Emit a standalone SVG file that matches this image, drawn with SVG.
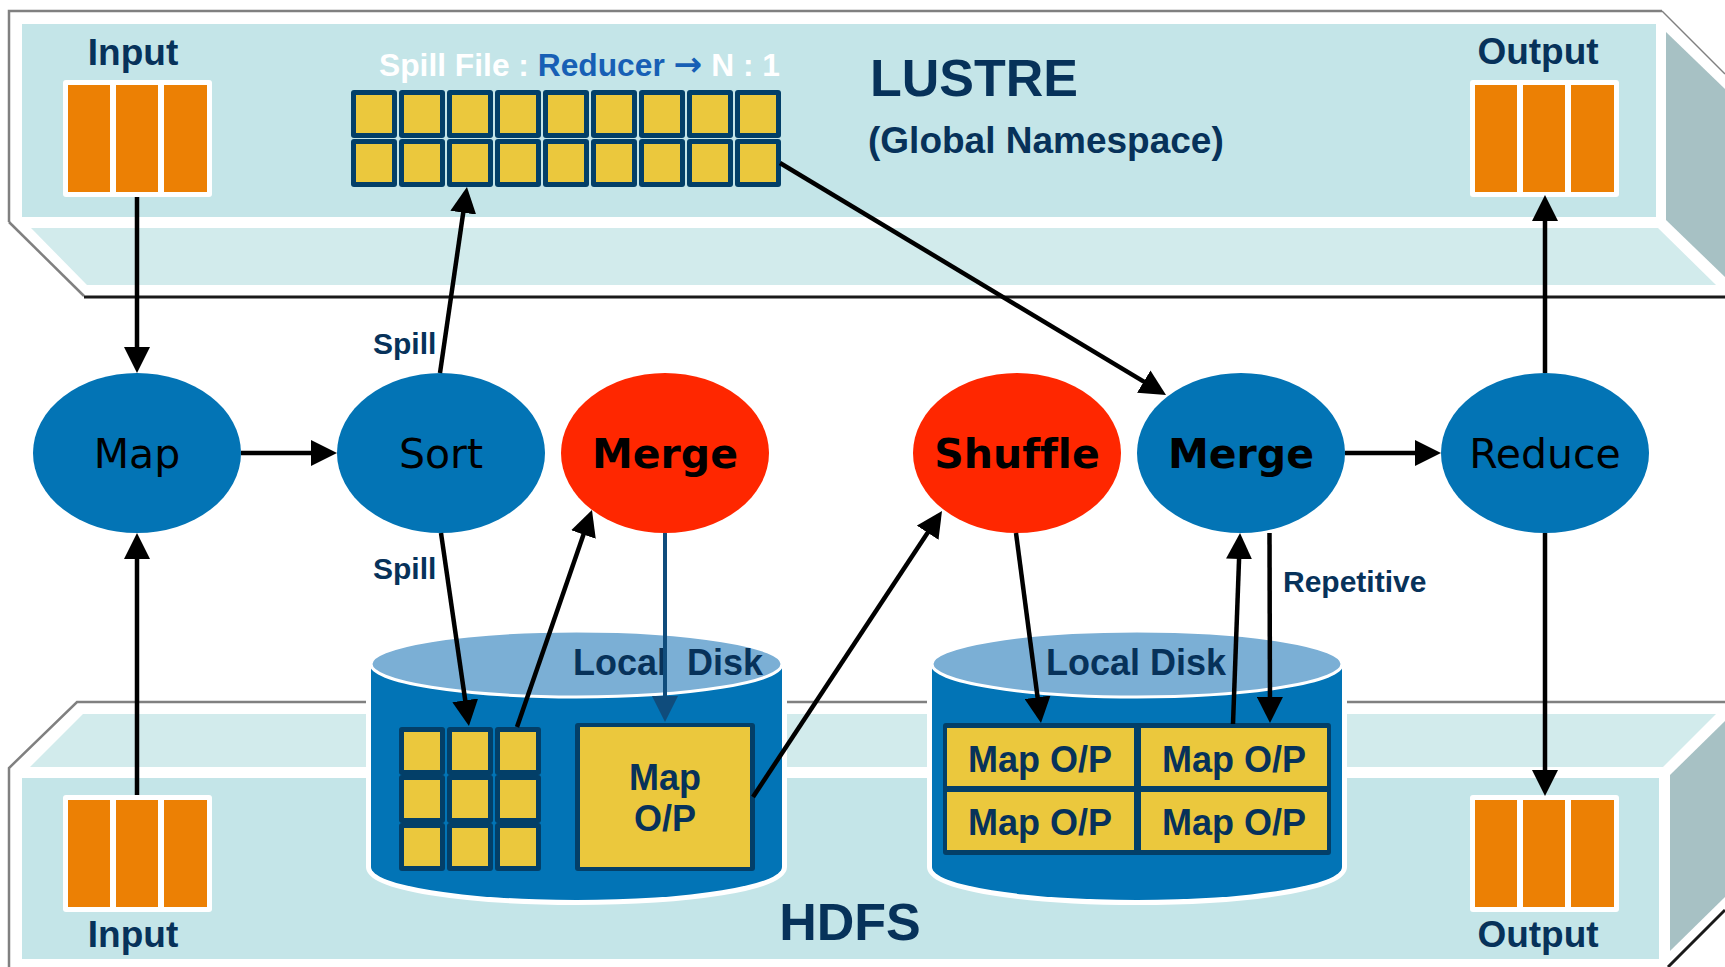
<svg xmlns="http://www.w3.org/2000/svg" xmlns:xlink="http://www.w3.org/1999/xlink" width="1725" height="967" viewBox="0 0 1725 967">
  <style>
    .face { fill: #C4E5E8; }
    .strip { fill: #D2EBEC; }
    .side { fill: #A7C1C4; }
    .edge-gray { fill: none; stroke: #808080; stroke-width: 2.5; }
    .edge-dark { fill: none; stroke: #1A1A1A; stroke-width: 3; }
    .lbl { font-family: "Liberation Sans", Arial, sans-serif; font-weight: bold; fill: #07325A; }
    .node-blue { fill: #0374B5; }
    .node-red { fill: #FF2700; }
    .ntext { font-family: "DejaVu Sans", Verdana, sans-serif; font-size: 41px; fill: #000; text-anchor: middle; font-variant-ligatures: none; }
    .nbold { font-weight: bold; }
    .frame { fill: #FFFFFF; }
    .bar { fill: #EC8004; }
    .navy { fill: #033F68; }
    .yellow { fill: #EBC83D; }
    .cyl-body { fill: #0274B6; stroke: #FFFFFF; stroke-width: 10; paint-order: stroke; }
    .cyl-top { fill: #7BAFD5; stroke: #FFFFFF; stroke-width: 3; }
    .conn { fill: none; stroke: #000; stroke-width: 4.5; }
    .conn-navy { fill: none; stroke: #0F4C7C; stroke-width: 4; }
  </style>
  <defs>
    <marker id="ah" viewBox="0 0 26 26" refX="20" refY="13" markerWidth="26" markerHeight="26" markerUnits="userSpaceOnUse" orient="auto">
      <path d="M0,0 L26,13 L0,26 Z" fill="#000"/>
    </marker>
    <marker id="ah-navy" viewBox="0 0 26 26" refX="20" refY="13" markerWidth="26" markerHeight="26" markerUnits="userSpaceOnUse" orient="auto">
      <path d="M0,0 L26,13 L0,26 Z" fill="#0F4C7C"/>
    </marker>
    <!-- one spill block: navy frame with a yellow tile -->
    <g id="cell">
      <rect class="navy" x="0" y="0" width="46" height="48" rx="3"/>
      <rect class="yellow" x="5" y="5" width="36" height="38"/>
    </g>
    <!-- three-bar file block -->
    <g id="filebars">
      <rect class="frame" x="0" y="0" width="149" height="117" rx="3"/>
      <rect class="bar" x="5" y="5" width="42" height="107"/>
      <rect class="bar" x="53" y="5" width="42" height="107"/>
      <rect class="bar" x="101" y="5" width="43" height="107"/>
    </g>
  </defs>

  <rect width="1725" height="967" fill="#FFFFFF"/>

  <!-- LUSTRE storage slab -->
  <g id="lustre">
    <path class="edge-gray" d="M9,222 V11 H1662"/>
    <path d="M1662,11 L1725,74" fill="none" stroke="#808080" stroke-width="1.5"/>
    <path class="edge-gray" d="M9,222 L84,296"/>
    <path class="edge-dark" d="M84,297 H1725"/>
    <rect class="face" x="22" y="24" width="1634" height="193"/>
    <polygon class="strip" points="31,228 1658,228 1716,285 87,285"/>
    <polygon class="side" points="1666,32 1725,89 1725,277 1666,220"/>
    <text class="lbl" x="870" y="96" font-size="52">LUSTRE</text>
    <text class="lbl" x="868" y="153" font-size="37">(Global Namespace)</text>
  </g>

  <!-- HDFS storage slab -->
  <g id="hdfs">
    <path class="edge-gray" d="M1725,702 H77 L9,768 V967"/>
    <polygon class="strip" points="83,714 1716,714 1663,767 30,767"/>
    <rect class="face" x="22" y="778" width="1637" height="181"/>
    <polygon class="side" points="1670,775 1725,721 1725,897 1670,951"/>
    <path class="edge-dark" d="M1668,967 L1725,910"/>
    <text class="lbl" x="850" y="940" font-size="52" text-anchor="middle">HDFS</text>
  </g>

  <!-- input / output files -->
  <g id="input-lustre">
    <text class="lbl" x="133" y="65" font-size="37" text-anchor="middle">Input</text>
    <use xlink:href="#filebars" x="63" y="80"/>
  </g>
  <g id="output-lustre">
    <text class="lbl" x="1538" y="64" font-size="37" text-anchor="middle">Output</text>
    <use xlink:href="#filebars" x="1470" y="80"/>
  </g>
  <g id="input-hdfs">
    <use xlink:href="#filebars" x="63" y="795"/>
    <text class="lbl" x="133" y="947" font-size="37" text-anchor="middle">Input</text>
  </g>
  <g id="output-hdfs">
    <use xlink:href="#filebars" x="1470" y="795"/>
    <text class="lbl" x="1538" y="947" font-size="37" text-anchor="middle">Output</text>
  </g>

  <!-- spill files on LUSTRE -->
  <g id="spill-file">
    <text x="379" y="76" font-family="Liberation Sans, Arial, sans-serif" font-weight="bold" font-size="31.5" textLength="401" lengthAdjust="spacingAndGlyphs"><tspan fill="#FFFFFF">Spill File : </tspan><tspan fill="#175FB5">Reducer <tspan font-family="DejaVu Sans, sans-serif" font-size="34">→</tspan> </tspan><tspan fill="#FFFFFF">N : 1</tspan></text>
    <use xlink:href="#cell" x="351" y="90"/>
    <use xlink:href="#cell" x="399" y="90"/>
    <use xlink:href="#cell" x="447" y="90"/>
    <use xlink:href="#cell" x="495" y="90"/>
    <use xlink:href="#cell" x="543" y="90"/>
    <use xlink:href="#cell" x="591" y="90"/>
    <use xlink:href="#cell" x="639" y="90"/>
    <use xlink:href="#cell" x="687" y="90"/>
    <use xlink:href="#cell" x="735" y="90"/>
    <use xlink:href="#cell" x="351" y="139"/>
    <use xlink:href="#cell" x="399" y="139"/>
    <use xlink:href="#cell" x="447" y="139"/>
    <use xlink:href="#cell" x="495" y="139"/>
    <use xlink:href="#cell" x="543" y="139"/>
    <use xlink:href="#cell" x="591" y="139"/>
    <use xlink:href="#cell" x="639" y="139"/>
    <use xlink:href="#cell" x="687" y="139"/>
    <use xlink:href="#cell" x="735" y="139"/>
  </g>

  <!-- map-side local disk -->
  <g id="local-disk-map">
    <path class="cyl-body" d="M371,663 V867 A205.5,33 0 0 0 782,867 V663 Z"/>
    <ellipse class="cyl-top" cx="576.5" cy="664" rx="205.5" ry="33"/>
    <text class="lbl" x="573" y="675" font-size="36" style="white-space:pre" xml:space="preserve">Local  Disk</text>
    <use xlink:href="#cell" x="399" y="727"/>
    <use xlink:href="#cell" x="447" y="727"/>
    <use xlink:href="#cell" x="495" y="727"/>
    <use xlink:href="#cell" x="399" y="775"/>
    <use xlink:href="#cell" x="447" y="775"/>
    <use xlink:href="#cell" x="495" y="775"/>
    <use xlink:href="#cell" x="399" y="823"/>
    <use xlink:href="#cell" x="447" y="823"/>
    <use xlink:href="#cell" x="495" y="823"/>
    <rect class="navy" x="575" y="723" width="180" height="148" rx="3"/>
    <rect class="yellow" x="580" y="727" width="170" height="140"/>
    <text class="lbl" x="665" y="790" font-size="36" text-anchor="middle">Map</text>
    <text class="lbl" x="665" y="831" font-size="36" text-anchor="middle">O/P</text>
  </g>

  <!-- reduce-side local disk -->
  <g id="local-disk-reduce">
    <path class="cyl-body" d="M932,663 V867 A205,33 0 0 0 1342,867 V663 Z"/>
    <ellipse class="cyl-top" cx="1137" cy="664" rx="205" ry="33"/>
    <text class="lbl" x="1046" y="675" font-size="36">Local Disk</text>
    <rect class="navy" x="943" y="723" width="388" height="132" rx="3"/>
    <rect class="yellow" x="947" y="728" width="187" height="58"/>
    <rect class="yellow" x="1141" y="728" width="186" height="58"/>
    <rect class="yellow" x="947" y="792" width="187" height="58"/>
    <rect class="yellow" x="1141" y="792" width="186" height="58"/>
    <text class="lbl" x="1040" y="772" font-size="36" text-anchor="middle">Map O/P</text>
    <text class="lbl" x="1234" y="772" font-size="36" text-anchor="middle">Map O/P</text>
    <text class="lbl" x="1040" y="835" font-size="36" text-anchor="middle">Map O/P</text>
    <text class="lbl" x="1234" y="835" font-size="36" text-anchor="middle">Map O/P</text>
  </g>

  <!-- processing stages -->
  <g id="map">
    <ellipse class="node-blue" cx="137" cy="453" rx="104" ry="80"/>
    <text class="ntext" x="137" y="468">Map</text>
  </g>
  <g id="sort">
    <ellipse class="node-blue" cx="441" cy="453" rx="104" ry="80"/>
    <text class="ntext" x="441" y="468">Sort</text>
  </g>
  <g id="merge-map">
    <ellipse class="node-red" cx="665" cy="453" rx="104" ry="80"/>
    <text class="ntext nbold" x="665" y="468">Merge</text>
  </g>
  <g id="shuffle">
    <ellipse class="node-red" cx="1017" cy="453" rx="104" ry="80"/>
    <text class="ntext nbold" x="1017" y="468">Shuffle</text>
  </g>
  <g id="merge-reduce">
    <ellipse class="node-blue" cx="1241" cy="453" rx="104" ry="80"/>
    <text class="ntext nbold" x="1241" y="468">Merge</text>
  </g>
  <g id="reduce">
    <ellipse class="node-blue" cx="1545" cy="453" rx="104" ry="80"/>
    <text class="ntext" x="1545" y="468">Reduce</text>
  </g>

  <!-- data flow -->
  <g id="connectors">
    <line class="conn" x1="137" y1="197" x2="137" y2="367" marker-end="url(#ah)"/>
    <line class="conn" x1="137" y1="795" x2="137" y2="539" marker-end="url(#ah)"/>
    <line class="conn" x1="241" y1="453" x2="331" y2="453" marker-end="url(#ah)"/>
    <line class="conn" x1="440" y1="373" x2="466.1" y2="192.9" marker-end="url(#ah)"/>
    <line class="conn" x1="441" y1="533" x2="468.1" y2="720.1" marker-end="url(#ah)"/>
    <line class="conn" x1="517" y1="727" x2="590.0" y2="515.7" marker-end="url(#ah)"/>
    <line class="conn-navy" x1="665" y1="533" x2="665" y2="716" marker-end="url(#ah-navy)"/>
    <line class="conn" x1="753" y1="797" x2="938.7" y2="516.0" marker-end="url(#ah)"/>
    <line class="conn" x1="1016" y1="533" x2="1040.2" y2="717.1" marker-end="url(#ah)"/>
    <line class="conn" x1="1233" y1="724" x2="1239.8" y2="539" marker-end="url(#ah)"/>
    <line class="conn" x1="1269.5" y1="533" x2="1270" y2="717" marker-end="url(#ah)"/>
    <line class="conn" x1="780" y1="163" x2="1160.9" y2="391.9" marker-end="url(#ah)"/>
    <line class="conn" x1="1345" y1="453" x2="1435" y2="453" marker-end="url(#ah)"/>
    <line class="conn" x1="1545" y1="373" x2="1545" y2="201" marker-end="url(#ah)"/>
    <line class="conn" x1="1545" y1="533" x2="1545" y2="790" marker-end="url(#ah)"/>
    <text class="lbl" x="373" y="354" font-size="30">Spill</text>
    <text class="lbl" x="373" y="579" font-size="30">Spill</text>
    <text class="lbl" x="1283" y="592" font-size="30">Repetitive</text>
  </g>
</svg>
